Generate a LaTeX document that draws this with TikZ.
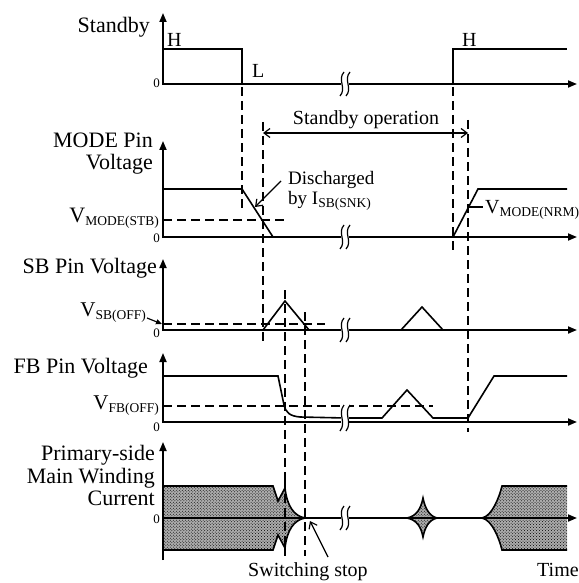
\documentclass[tikz,border=0pt]{standalone}
\usepackage{fontspec}
\setmainfont{Liberation Serif}
\usetikzlibrary{arrows.meta,patterns}
\newcommand\subx[1]{\raisebox{-3bp}{\fontsize{13.5bp}{14bp}\selectfont #1}}
\newcommand\brkmark[3]{%
  \fill[white] (#1-4,#2-#3) rectangle (#1+4,#2+#3);
  \draw[line width=1.2bp] (#1-1,#2-#3) .. controls (#1-8,#2-4) and (#1+2,#2+4) .. (#1-5,#2+#3);
  \draw[line width=1.2bp] (#1+5,#2-#3) .. controls (#1-2,#2-4) and (#1+8,#2+4) .. (#1+1,#2+#3);
}
\begin{document}
\begin{tikzpicture}[x=1bp,y=-1bp,line join=miter,
  ax/.style={line width=1.8bp,-{Triangle[length=9bp,width=7bp]}},
  sig/.style={line width=1.6bp},
  dsh/.style={line width=1.5bp,dash pattern=on 9bp off 5bp},
  lab/.style={font=\fontsize{22bp}{23bp}\selectfont,inner sep=0pt,anchor=base east},
  ann/.style={font=\fontsize{20bp}{22bp}\selectfont,inner sep=0pt,anchor=base west},
  zero/.style={font=\fontsize{13bp}{14bp}\selectfont,inner sep=0pt,anchor=base east},
  note/.style={line width=1.2bp,-{Straight Barb[length=6bp,width=9bp]}},
  shadefill/.style={fill=gray!65},
  shadepat/.style={pattern=crosshatch dots,pattern color=black}
]
\useasboundingbox (0,0) rectangle (579,583);

% ---------------- Standby ----------------
\draw[ax] (163,85) -- (163,13);
\draw[ax] (162,84) -- (577,84);
\draw[sig] (163,49) -- (242,49) -- (242,84);
\draw[line width=2.6bp] (242,84) -- (453,84);
\draw[sig] (453,84) -- (453,49) -- (567,49);
\brkmark{345}{84}{12}
\node[lab] (tStandby) at (150,33) {Standby};
\node[ann] (tH1) at (167,47) {H};
\node[ann] (tL) at (252,78) {L};
\node[ann] (tH2) at (462,47) {H};
\node[zero] (z1) at (160,88) {0};

% ---------------- dashed time markers ----------------
\draw[dsh] (242,87) -- (242,213);
\draw[dsh] (453,87) -- (453,253);
\draw[dsh] (263,122) -- (263,343);
\draw[dsh] (468,120) -- (468,432);
\draw[dsh] (285,290) -- (285,556);
\draw[dsh] (305,312) -- (305,556);

% Standby operation
\coordinate (soL) at (263,133);
\coordinate (soR) at (468,133);
\draw[line width=1.2bp,{Straight Barb[length=6bp,width=9bp]}-{Straight Barb[length=6bp,width=9bp]}] (soL) -- (soR);
\node[ann,anchor=base] (tSO) at (366,125) {Standby operation};

% ---------------- MODE ----------------
\draw[ax] (163,238) -- (163,141);
\draw[ax] (162,237) -- (577,237);
\draw[sig] (163,189) -- (242,189) -- (273,237);
\draw[sig] (453,237) -- (478,189) -- (567,189);
\draw[dsh] (163,220) -- (287,220);
\draw[line width=1.2bp] (469,207) -- (483,207);
\brkmark{345}{237}{12}
\node[lab] (tMode1) at (153,148) {MODE Pin};
\node[lab] (tMode2) at (153,170) {Voltage};
\node[lab] (tVms) at (159,222) {V\subx{MODE(STB)}};
\node[zero] (z2) at (160,242) {0};
\node[ann,font=\fontsize{19bp}{20bp}\selectfont] (tDis1) at (288,184) {Discharged};
\node[ann,font=\fontsize{19bp}{20bp}\selectfont] (tDis2) at (288,204) {by I\subx{SB(SNK)}};
\coordinate (dA) at (281,181);
\coordinate (dB) at (255,207);
\draw[note] (dA) -- (dB);
\node[ann] (tVmn) at (485,213) {V\subx{MODE(NRM)}};

% ---------------- SB ----------------
\draw[ax] (163,331) -- (163,259);
\draw[ax] (162,330) -- (577,330);
\draw[sig] (263,330) -- (285,301) -- (309,330);
\draw[sig] (401,330) -- (422,307) -- (443,330);
\draw[dsh] (163,324) -- (325,324);
\brkmark{345}{330}{12}
\node[lab] (tSB) at (157,273) {SB Pin Voltage};
\node[lab,font=\fontsize{21bp}{22bp}\selectfont] (tVsb) at (146,316) {V\subx{SB(OFF)}};
\coordinate (sA) at (147,318);
\coordinate (sB) at (162,324);
\draw[line width=1.2bp,-{Triangle[length=6bp,width=5bp]}] (sA) -- (sB);
\node[zero] (z3) at (160,337) {0};

% ---------------- FB ----------------
\draw[ax] (163,423) -- (163,353);
\draw[ax] (162,422) -- (577,422);
\draw[sig] (163,376) -- (278,376) -- (284,405) .. controls (286,413) and (290,416) .. (300,417) -- (345,418);
\draw[sig] (345,418) -- (382,418) -- (407,390) -- (433,418) -- (468,418) -- (494,376) -- (567,376);
\draw[dsh] (163,406) -- (433,406);
\brkmark{345}{418}{13}
\node[lab] (tFB) at (148,373) {FB Pin Voltage};
\node[lab,font=\fontsize{21bp}{22bp}\selectfont] (tVfb) at (159,409) {V\subx{FB(OFF)}};
\node[zero] (z4) at (160,431) {0};

% ---------------- Primary-side current ----------------
\fill[shadefill] (164,486) -- (273,486) -- (278,501) -- (285,488) .. controls (287,506) and (294,516) .. (305,518)
  .. controls (294,520) and (287,530) .. (285,548) -- (278,535) -- (273,550) -- (164,550) -- cycle;
\fill[shadepat] (164,486) -- (273,486) -- (278,501) -- (285,488) .. controls (287,506) and (294,516) .. (305,518)
  .. controls (294,520) and (287,530) .. (285,548) -- (278,535) -- (273,550) -- (164,550) -- cycle;
\draw[sig] (163,486) -- (273,486) -- (278,501) -- (285,488) .. controls (287,506) and (294,516) .. (305,518);
\draw[sig] (163,550) -- (273,550) -- (278,535) -- (285,548) .. controls (287,530) and (294,520) .. (305,518);

\fill[shadefill] (407,518) .. controls (417,516) and (421,508) .. (423,498) .. controls (425,508) and (429,516) .. (437,518)
  .. controls (429,520) and (425,527) .. (423,537) .. controls (421,527) and (417,520) .. (407,518) -- cycle;
\fill[shadepat] (407,518) .. controls (417,516) and (421,508) .. (423,498) .. controls (425,508) and (429,516) .. (437,518)
  .. controls (429,520) and (425,527) .. (423,537) .. controls (421,527) and (417,520) .. (407,518) -- cycle;
\draw[sig] (407,518) .. controls (417,516) and (421,508) .. (423,498) .. controls (425,508) and (429,516) .. (437,518)
  .. controls (429,520) and (425,527) .. (423,537) .. controls (421,527) and (417,520) .. (407,518) -- cycle;

\fill[shadefill] (482,518) .. controls (492,516) and (499,498) .. (502,486) -- (567,486) -- (567,550) -- (502,550)
  .. controls (499,538) and (492,520) .. (482,518) -- cycle;
\fill[shadepat] (482,518) .. controls (492,516) and (499,498) .. (502,486) -- (567,486) -- (567,550) -- (502,550)
  .. controls (499,538) and (492,520) .. (482,518) -- cycle;
\draw[sig] (482,518) .. controls (492,516) and (499,498) .. (502,486) -- (567,486);
\draw[sig] (482,518) .. controls (492,520) and (499,538) .. (502,550) -- (567,550);

\draw[ax] (163,560) -- (163,442);
\draw[ax] (162,518) -- (577,518);
\draw[dsh] (285,480) -- (285,556);
\brkmark{345}{518}{12}
\node[lab] (tP1) at (155,460) {Primary-side};
\node[lab] (tP2) at (155,483) {Main Winding};
\node[lab] (tP3) at (155,505) {Current};
\node[zero] (z5) at (160,523) {0};

\coordinate (wA) at (328,557);
\coordinate (wB) at (310,521);
\draw[note] (wA) -- (wB);
\node[ann] (tSw) at (248,576) {Switching stop};
\node[ann] (tTime) at (537,576) {Time};
\end{tikzpicture}
\end{document}
